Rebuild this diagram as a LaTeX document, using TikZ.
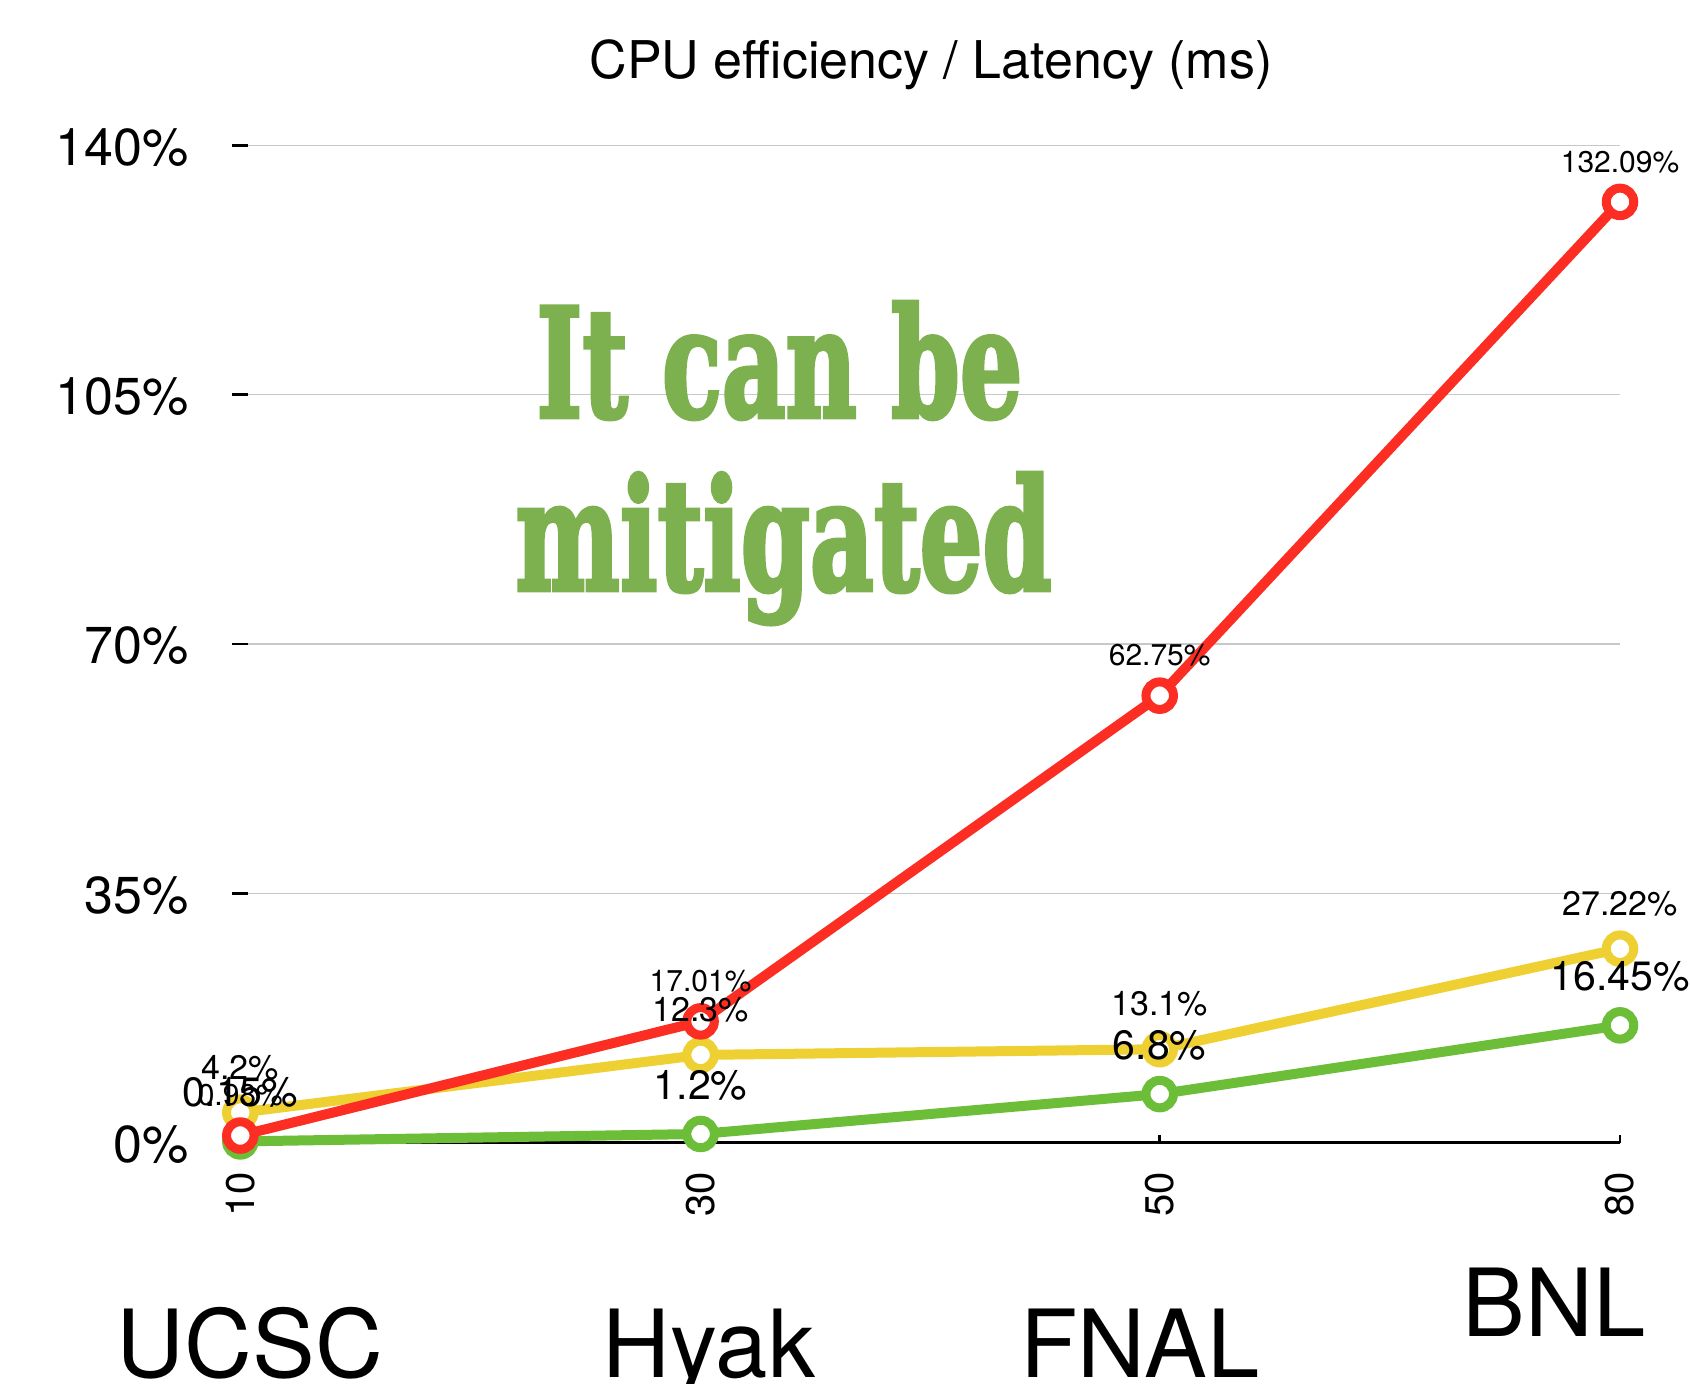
\documentclass[tikz,border=0pt]{standalone}
\usepackage{fontspec}
\setmainfont{TeX Gyre Heros}
\newfontfamily\slabfont{DejaVu Serif}[BoldFeatures={FakeBold=3}]
\usetikzlibrary{positioning}
\definecolor{serred}{RGB}{252,45,34}
\definecolor{seryellow}{RGB}{238,208,50}
\definecolor{sergreen}{RGB}{108,190,56}
\definecolor{notegreen}{RGB}{125,176,79}
\definecolor{gridgray}{RGB}{200,200,200}
\begin{document}
\begin{tikzpicture}[x=0.5pt,y=-0.5pt,
  ring/.style={circle,draw=#1,fill=white,line width=4.5pt,minimum size=13.75pt,inner sep=0pt},
  serline/.style={draw=#1,line width=5pt,line join=round},
  redlbl/.style={font=\fontsize{15}{18}\selectfont,inner sep=0pt},
  yellbl/.style={font=\fontsize{17}{20}\selectfont,inner sep=0pt},
  greenlbl/.style={font=\fontsize{20.5}{24}\selectfont,inner sep=0pt},
  axislbl/.style={font=\fontsize{26}{30}\selectfont,inner sep=0pt},
  ticklbl/.style={font=\fontsize{20}{24}\selectfont,inner sep=0pt,rotate=90,anchor=east},
  sitelbl/.style={font=\fontsize{47}{50}\selectfont,inner sep=0pt,anchor=base},
  gridline/.style={gridgray,line width=0.6pt}]
\useasboundingbox (0,0) rectangle (1690,1384);
\node[axislbl] (title) at (931,65) {CPU efficiency / Latency (ms)};
% grid, y ticks and x axis
\begin{scope}[shift={(0,1142.5)},y=3.5605pt]
  \foreach \v in {35,70,105,140}
    \draw[gridline] (248,\v) -- (1620,\v);
  \foreach \v in {0,35,70,105,140} {
    \draw[line width=1.4pt] (232,\v) -- (248,\v);
    \node[axislbl,anchor=east] (y\v) at ([yshift=-1pt]189,\v) {\v\%};
  }
  \draw[line width=1.4pt] (240.3,0) -- (1620,0);
  \foreach \x in {240.3,700.6,1159.7,1620}
    \draw[line width=1.4pt] (\x,0) -- ++(0pt,4pt);
  % data points
  \coordinate (g1) at (240.3,0.15);
  \coordinate (g2) at (700.6,1.2);
  \coordinate (g3) at (1159.7,6.8);
  \coordinate (g4) at (1620,16.45);
  \coordinate (y1) at (240.3,4.2);
  \coordinate (y2) at (700.6,12.3);
  \coordinate (y3) at (1159.7,13.1);
  \coordinate (y4) at (1620,27.22);
  \coordinate (r1) at (240.3,0.98);
  \coordinate (r2) at (700.6,17.01);
  \coordinate (r3) at (1159.7,62.75);
  \coordinate (r4) at (1620,132.09);
\end{scope}
\node[ticklbl] (x10) at (240.3,1172) {10};
\node[ticklbl] (x30) at (700.6,1172) {30};
\node[ticklbl] (x50) at (1159.7,1172) {50};
\node[ticklbl] (x80) at (1620,1172) {80};
% the note
\node[anchor=base west,inner sep=0pt,text=notegreen] (note1) at (536,417)
  {\resizebox{243pt}{57.5pt}{\slabfont\bfseries It can be}};
\node[anchor=base west,inner sep=0pt,text=notegreen] (note2) at (515,590)
  {\resizebox{268pt}{58.5pt}{\slabfont\bfseries mitigated}};
% series
\draw[serline=sergreen] (g1) -- (g2) -- (g3) -- (g4);
\foreach \p in {g1,g2,g3,g4} \node[ring=sergreen] at (\p) {};
\draw[serline=seryellow] (y1) -- (y2) -- (y3) -- (y4);
\foreach \p in {y1,y2,y3,y4} \node[ring=seryellow] at (\p) {};
\draw[serline=serred] (r1) -- (r2) -- (r3) -- (r4);
\foreach \p in {r1,r2,r3,r4} \node[ring=serred] at (\p) {};
% value labels
\node[greenlbl,yshift=24.5pt] (g1l) at (g1) {0.15\%};
\node[greenlbl,yshift=24.5pt] (g2l) at (g2) {1.2\%};
\node[greenlbl,yshift=24.5pt] (g3l) at (g3) {6.8\%};
\node[greenlbl,yshift=24.5pt] (g4l) at (g4) {16.45\%};
\node[yellbl,yshift=22.5pt] (y1l) at (y1) {4.2\%};
\node[yellbl,yshift=22.5pt] (y2l) at (y2) {12.3\%};
\node[yellbl,yshift=22.5pt] (y3l) at (y3) {13.1\%};
\node[yellbl,yshift=22.5pt] (y4l) at (y4) {27.22\%};
\node[redlbl,yshift=20pt] (r1l) at (r1) {0.98\%};
\node[redlbl,yshift=20pt] (r2l) at (r2) {17.01\%};
\node[redlbl,yshift=20pt] (r3l) at (r3) {62.75\%};
\node[redlbl,yshift=20pt] (r4l) at (r4) {132.09\%};
% sites
\node[sitelbl] (ucsc) at (250,1377) {UCSC};
\node[sitelbl] (hyak) at (709,1377) {Hyak};
\node[sitelbl] (fnal) at (1140,1377) {FNAL};
\node[sitelbl] (bnl) at (1554,1336) {BNL};
\end{tikzpicture}
\end{document}
